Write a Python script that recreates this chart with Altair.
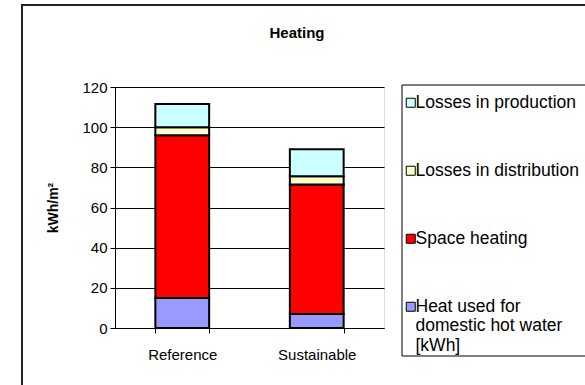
import altair as alt
import pandas as pd

# Heating demand per scenario, kWh/m², listed from the bottom of each stack upwards
scenarios = ["Reference", "Sustainable"]
components = [
    "Heat used for domestic hot water [kWh]",
    "Space heating",
    "Losses in distribution",
    "Losses in production",
]
hot_water = [15, 7]
space_heating = [81, 64.5]
distribution_losses = [4, 4]
production_losses = [11.5, 13.5]
component_colors = ["#9999FF", "#FF0000", "#FFFFCC", "#CCFFFF"]
chart_title = "Heating"

series = [hot_water, space_heating, distribution_losses, production_losses]
rows = []
for order, (name, values) in enumerate(zip(components, series)):
    for scenario, v in zip(scenarios, values):
        rows.append({"scenario": scenario, "component": name, "value": v, "stack": order})
df = pd.DataFrame(rows)

FONT = "Liberation Sans"
W, H = 269, 241
PAD = {"left": 115, "top": 87, "right": 201, "bottom": 57}

# legend lists the top of the stack first
legend_domain = components[::-1]
legend_range = component_colors[::-1]

bars = alt.Chart(df).mark_bar(stroke="black", strokeWidth=2).encode(
    x=alt.X(
        "scenario:N",
        sort=scenarios,
        title=None,
        scale=alt.Scale(paddingInner=0.6, paddingOuter=0.3),
        axis=alt.Axis(
            labelAngle=0,
            labelFont=FONT,
            labelFontSize=15,
            labelColor="black",
            labelPadding=14,
            tickBand="extent",
            tickSize=5,
            tickColor="black",
            domainColor="black",
            grid=False,
        ),
    ),
    y=alt.Y(
        "value:Q",
        stack="zero",
        title="kWh/m²",
        scale=alt.Scale(domain=[0, 120], nice=False),
        axis=alt.Axis(
            values=[0, 20, 40, 60, 80, 100, 120],
            labelFont=FONT,
            labelFontSize=15,
            labelColor="black",
            labelPadding=3,
            tickSize=5,
            tickColor="black",
            domainColor="black",
            gridColor="black",
            gridWidth=1,
            titleFont=FONT,
            titleFontSize=14,
            titleFontWeight="bold",
            titleColor="black",
            titleX=-62,
            titleY=H / 2,
            titleAlign="center",
            titleBaseline="middle",
        ),
    ),
    color=alt.Color(
        "component:N",
        scale=alt.Scale(domain=legend_domain, range=legend_range),
        legend=alt.Legend(
            title=None,
            orient="none",
            legendX=287,
            legendY=7,
            padding=0,
            symbolType="square",
            symbolSize=81,
            symbolStrokeColor="black",
            symbolStrokeWidth=1,
            symbolOpacity=1,
            labelFont=FONT,
            labelFontSize=17.5,
            labelColor="black",
            labelOffset={"expr": "-4"},
            labelLimit=0,
            rowPadding=49,
            labelExpr=(
                "datum.label == 'Heat used for domestic hot water [kWh]'"
                " ? ['Heat used for', 'domestic hot water', '[kWh]'] : datum.label"
            ),
        ),
    ),
    order=alt.Order("stack:Q"),
)

frame_data = alt.Data(values=[{"text": chart_title}])

# outer chart border and legend box
outer_frame = alt.Chart(frame_data).mark_rect(
    fill=None, stroke="#222222", strokeWidth=2
).encode(
    x=alt.value(-93), x2=alt.value(480), y=alt.value(-82), y2=alt.value(310)
)
legend_box = alt.Chart(frame_data).mark_rect(
    fill="white", stroke="black", strokeWidth=1
).encode(
    x=alt.value(287), x2=alt.value(480), y=alt.value(-2), y2=alt.value(269)
)
title_text = alt.Chart(frame_data).mark_text(
    font=FONT, fontSize=15, fontWeight="bold", color="black",
    align="center", baseline="alphabetic",
).encode(
    text="text:N", x=alt.value(182), y=alt.value(-49)
)

chart = (
    alt.layer(outer_frame, legend_box, title_text, bars)
    .properties(
        width=W,
        height=H,
        padding=PAD,
        autosize=alt.AutoSizeParams(type="none"),
    )
    .configure_view(fill="#C0C0C0", stroke="#808080", strokeWidth=1)
    .configure(background="white", style={"guide-label": {"lineHeight": 19.5}})
)

chart.save("out.html", embed_options={"renderer": "svg", "actions": False})
